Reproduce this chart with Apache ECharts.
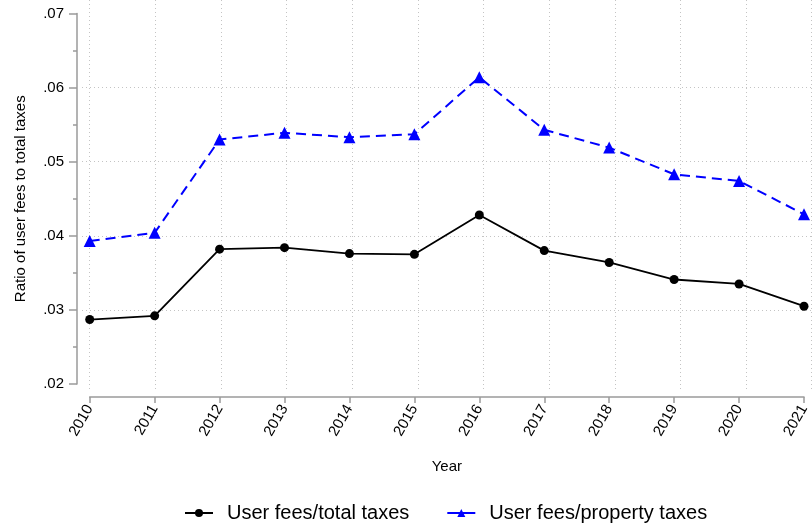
<!DOCTYPE html>
<html>
<head>
<meta charset="utf-8">
<script src="https://cdn.jsdelivr.net/npm/echarts@6/dist/echarts.min.js"></script>
<style>
  html, body { margin: 0; padding: 0; background: #fff; }
  #chart { width: 812px; height: 525px; }
</style>
</head>
<body>
<div id="chart"></div>
<script>
// Years on the horizontal axis
const years = ['2010', '2011', '2012', '2013', '2014', '2015',
               '2016', '2017', '2018', '2019', '2020', '2021'];

// Ratio of user fees to total taxes
const feesTotalTaxes = [0.0287, 0.0292, 0.0382, 0.0384, 0.0376, 0.0375,
                        0.0428, 0.0380, 0.0364, 0.0341, 0.0335, 0.0305];

// Ratio of user fees to property taxes
const feesPropertyTaxes = [0.0393, 0.0404, 0.0530, 0.0539, 0.0533, 0.0537,
                           0.0614, 0.0543, 0.0519, 0.0483, 0.0474, 0.0429];

// Value axis bounds and step
const yMin = 0.02, yMax = 0.07, yStep = 0.01;

const seriesNames = ['User fees/total taxes', 'User fees/property taxes'];

const FONT = '"Liberation Sans", Arial, Helvetica, sans-serif';
const AXIS_GREY = '#9a9a9a';
const GRID_GREY = '#c4c4c4';

const chart = echarts.init(document.getElementById('chart'), null, { renderer: 'canvas' });

const fmtTick = v => v.toFixed(2).replace(/^0/, '');

chart.setOption({
  backgroundColor: '#fff',
  animation: false,
  textStyle: { fontFamily: FONT },
  grid: [
    // data panel
    { left: 89.7, right: 0.3, top: 13.5, bottom: 141 },
    // vertical dotted guides (taller than the data panel)
    { left: 89.7, right: 0.3, top: 0, bottom: 135 },
    // horizontal dotted guides (start a bit left of the first year)
    { left: 82, right: 0, top: 13.5, bottom: 141 }
  ],
  legend: {
    left: 179,
    top: 498,
    itemWidth: 28,
    itemHeight: 10,
    itemGap: 37,
    textStyle: { fontSize: 20, color: '#000', fontFamily: FONT, padding: [0, 0, 0, 9] },
    data: [
      { name: seriesNames[0] },
      { name: seriesNames[1], lineStyle: { type: 'solid' } }
    ]
  },
  xAxis: [
    {
      gridIndex: 0,
      type: 'category',
      data: years,
      boundaryGap: false,
      offset: 13,
      name: 'Year',
      nameLocation: 'middle',
      nameGap: 62,
      nameTextStyle: { fontSize: 15, color: '#000', fontFamily: FONT },
      axisLine: { show: true, lineStyle: { color: AXIS_GREY, width: 1.5 } },
      axisTick: { show: true, length: 6, lineStyle: { color: AXIS_GREY, width: 1.5 } },
      axisLabel: { rotate: 60, margin: 9, fontSize: 15, color: '#000', fontFamily: FONT, interval: 0 },
      splitLine: { show: false }
    },
    {
      gridIndex: 1,
      type: 'category',
      data: years,
      boundaryGap: false,
      axisLine: { show: false },
      axisTick: { show: false },
      axisLabel: { show: false },
      splitLine: { show: true, interval: 0, lineStyle: { color: GRID_GREY, width: 1, type: [1, 3] } }
    },
    {
      gridIndex: 2,
      type: 'value',
      min: 0,
      max: 1,
      show: false
    }
  ],
  yAxis: [
    {
      gridIndex: 0,
      type: 'value',
      min: yMin,
      max: yMax,
      interval: yStep,
      offset: 12.7,
      name: 'Ratio of user fees to total taxes',
      nameLocation: 'middle',
      nameRotate: 90,
      nameGap: 49,
      nameTextStyle: { fontSize: 15, color: '#000', fontFamily: FONT },
      axisLine: { show: true, lineStyle: { color: AXIS_GREY, width: 1.5 } },
      axisTick: { show: true, length: 8, lineStyle: { color: AXIS_GREY, width: 1.5 } },
      minorTick: { show: true, splitNumber: 2, length: 4, lineStyle: { color: AXIS_GREY, width: 1.5 } },
      axisLabel: { margin: 13, fontSize: 15, color: '#000', fontFamily: FONT, formatter: fmtTick },
      splitLine: { show: false }
    },
    {
      gridIndex: 1,
      type: 'value',
      min: 0,
      max: 1,
      show: false
    },
    {
      gridIndex: 2,
      type: 'value',
      min: yMin,
      max: yMax,
      interval: yStep,
      axisLine: { show: false },
      axisTick: { show: false },
      axisLabel: { show: false },
      splitLine: {
        show: true,
        showMinLine: false,
        showMaxLine: false,
        lineStyle: { color: GRID_GREY, width: 1, type: [1, 3] }
      }
    }
  ],
  series: [
    {
      name: seriesNames[0],
      type: 'line',
      xAxisIndex: 0,
      yAxisIndex: 0,
      data: feesTotalTaxes,
      symbol: 'circle',
      symbolSize: 9,
      z: 3,
      itemStyle: { color: '#000' },
      lineStyle: { color: '#000', width: 1.8 }
    },
    {
      name: seriesNames[1],
      type: 'line',
      xAxisIndex: 0,
      yAxisIndex: 0,
      data: feesPropertyTaxes,
      symbol: 'triangle',
      symbolSize: 12,
      z: 3,
      itemStyle: { color: '#0000ff' },
      lineStyle: { color: '#0000ff', width: 2, type: [10, 6] }
    }
  ]
});
</script>
</body>
</html>
